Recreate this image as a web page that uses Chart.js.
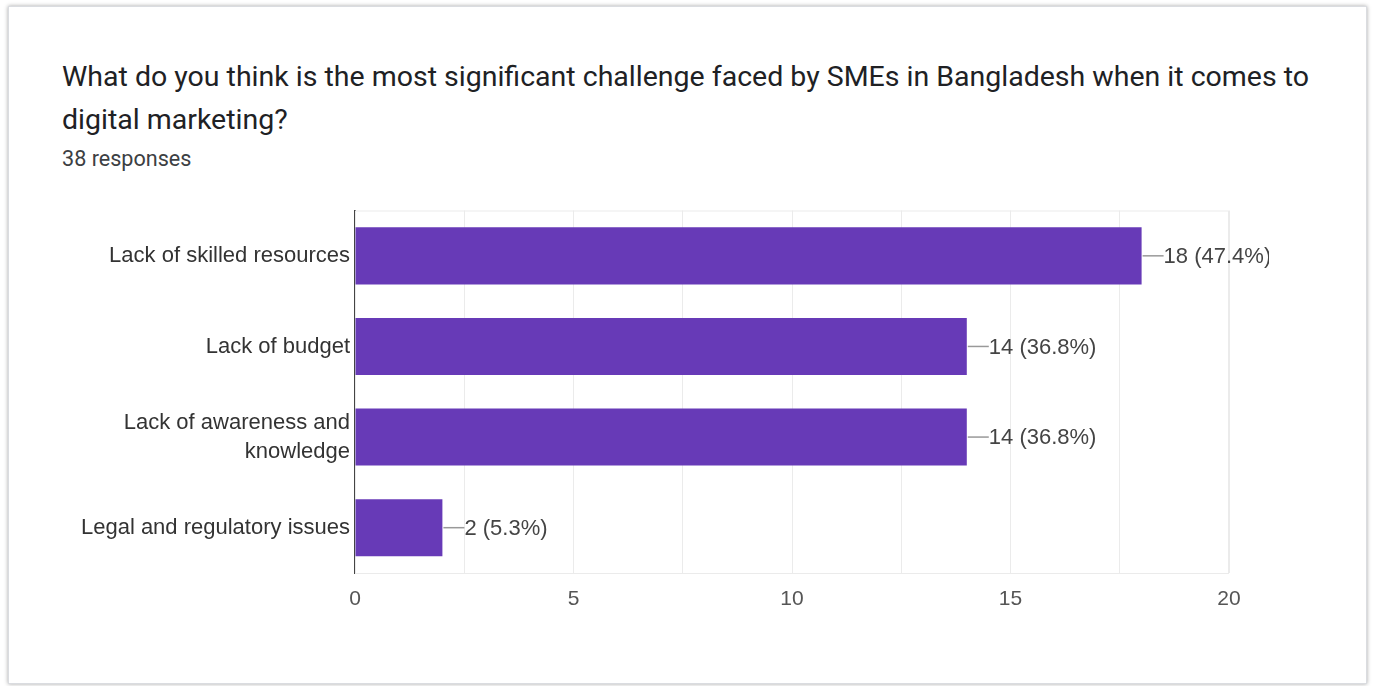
<!DOCTYPE html>
<html>
<head>
<meta charset="utf-8">
<title>SME digital marketing challenges</title>
<script src="https://cdn.jsdelivr.net/npm/chart.js@4/dist/chart.umd.min.js"></script>
<style>
  html, body { margin: 0; padding: 0; background: #fff; }
  body { width: 1373px; height: 686px; position: relative; overflow: hidden; }
  .card {
    position: absolute; left: 8px; top: 6px; width: 1357px; height: 676px;
    background: #fff; border: 1px solid #dadce0;
    box-shadow: 0 0 4px rgba(0, 0, 0, 0.35);
  }
  .card-title {
    position: absolute; left: 53px; top: 48px;
    font: 400 28.5px/43px Roboto, "Noto Sans", sans-serif; color: #202124;
    white-space: nowrap;
  }
  .card-sub {
    position: absolute; left: 53px; top: 140px;
    font: 400 21.6px/24px Roboto, "Noto Sans", sans-serif; color: #3c4043;
  }
  #chart-wrap { position: absolute; left: 52px; top: 184px; width: 1208px; height: 421px; }
</style>
</head>
<body>
<div class="card">
  <div class="card-title">What do you think is the most significant challenge faced by SMEs in Bangladesh when it comes to<br>digital marketing?</div>
  <div class="card-sub">38 responses</div>
  <div id="chart-wrap"><canvas id="challenges"></canvas></div>
</div>
<script>
var categories = [
  'Lack of skilled resources',
  'Lack of budget',
  ['Lack of awareness and', 'knowledge'],
  'Legal and regulatory issues'
];
var responses = [18, 14, 14, 2];
var totalResponses = 38;
var xTicks = [0, 5, 10, 15, 20];

var chartFont = '"Liberation Sans", Arial, sans-serif';

// frame round the plot area
var plotFrame = {
  id: 'plotFrame',
  beforeDatasetsDraw: function (chart) {
    var a = chart.chartArea, ctx = chart.ctx;
    ctx.save();
    ctx.strokeStyle = '#ebebeb';
    ctx.lineWidth = 1;
    ctx.strokeRect(a.left + 0.5, a.top + 0.5, a.right - a.left - 1, a.bottom - a.top);
    ctx.restore();
  }
};

// value labels with a short leader line
var valueLabels = {
  id: 'valueLabels',
  afterDatasetsDraw: function (chart) {
    var ctx = chart.ctx;
    var meta = chart.getDatasetMeta(0);
    ctx.save();
    ctx.font = '22px ' + chartFont;
    ctx.fillStyle = '#444';
    ctx.textBaseline = 'middle';
    meta.data.forEach(function (bar, i) {
      var v = responses[i];
      var pct = (v / totalResponses * 100).toFixed(1);
      ctx.strokeStyle = '#999';
      ctx.lineWidth = 1.5;
      ctx.beginPath();
      ctx.moveTo(bar.x + 1, bar.y);
      ctx.lineTo(bar.x + 22, bar.y);
      ctx.stroke();
      ctx.fillText(v + ' (' + pct + '%)', bar.x + 22, bar.y + 1);
    });
    ctx.restore();
  }
};

new Chart(document.getElementById('challenges'), {
  type: 'bar',
  data: {
    labels: categories,
    datasets: [{
      data: responses,
      backgroundColor: '#673ab7',
      barPercentage: 0.63,
      categoryPercentage: 1
    }]
  },
  options: {
    indexAxis: 'y',
    responsive: true,
    maintainAspectRatio: false,
    animation: false,
    layout: { padding: { top: 9, right: 40 } },
    plugins: {
      legend: { display: false },
      tooltip: { enabled: false }
    },
    scales: {
      x: {
        min: 0,
        max: 20,
        afterBuildTicks: function (scale) {
          var t = [];
          for (var v = 0; v <= 20; v += 2.5) t.push({ value: v });
          scale.ticks = t;
        },
        afterFit: function (scale) { scale.height = 39; },
        grid: { color: '#ebebeb', drawTicks: false },
        border: { display: false },
        ticks: {
          padding: 14,
          color: '#555',
          font: { family: chartFont, size: 21 },
          callback: function (value) {
            return xTicks.indexOf(value) >= 0 ? String(value) : '';
          }
        }
      },
      y: {
        afterFit: function (scale) { scale.width = 294; },
        grid: { display: false, drawTicks: false },
        border: { color: '#444', width: 2 },
        ticks: {
          padding: 5,
          color: '#333',
          font: { family: chartFont, size: 22, lineHeight: 1.32 }
        }
      }
    }
  },
  plugins: [plotFrame, valueLabels]
});
</script>
</body>
</html>
